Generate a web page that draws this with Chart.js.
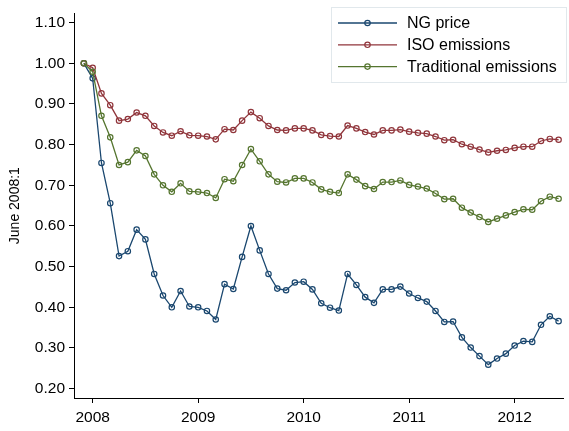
<!DOCTYPE html>
<html>
<head>
<meta charset="utf-8">
<script src="https://cdn.jsdelivr.net/npm/chart.js@4/dist/chart.umd.min.js"></script>
<style>
  html, body { margin: 0; padding: 0; background: #fff; }
  #wrap { width: 569px; height: 431px; }
</style>
</head>
<body>
<div id="wrap"><canvas id="chart" width="569" height="431"></canvas></div>
<script>
// monthly observations, index June 2008 = 1
const months = [
  '2007-12', '2008-01', '2008-02', '2008-03', '2008-04', '2008-05', '2008-06', '2008-07', '2008-08', '2008-09', '2008-10', '2008-11',
  '2008-12', '2009-01', '2009-02', '2009-03', '2009-04', '2009-05', '2009-06', '2009-07', '2009-08', '2009-09', '2009-10', '2009-11',
  '2009-12', '2010-01', '2010-02', '2010-03', '2010-04', '2010-05', '2010-06', '2010-07', '2010-08', '2010-09', '2010-10', '2010-11',
  '2010-12', '2011-01', '2011-02', '2011-03', '2011-04', '2011-05', '2011-06', '2011-07', '2011-08', '2011-09', '2011-10', '2011-11',
  '2011-12', '2012-01', '2012-02', '2012-03', '2012-04', '2012-05', '2012-06'
];
const ngPrice = [
  1.00, 0.963, 0.755, 0.656, 0.526, 0.538, 0.591, 0.567, 0.482, 0.429,
  0.400, 0.440, 0.402, 0.400, 0.391, 0.370, 0.457, 0.445, 0.524, 0.600,
  0.540, 0.482, 0.446, 0.442, 0.461, 0.463, 0.444, 0.410, 0.399, 0.392,
  0.482, 0.455, 0.425, 0.411, 0.444, 0.444, 0.451, 0.434, 0.423, 0.414,
  0.391, 0.364, 0.365, 0.326, 0.301, 0.280, 0.259, 0.274, 0.286, 0.306,
  0.317, 0.315, 0.357, 0.378, 0.366
];
const isoEmissions = [
  1.00, 0.989, 0.926, 0.897, 0.859, 0.863, 0.879, 0.871, 0.846, 0.830,
  0.822, 0.833, 0.823, 0.822, 0.820, 0.813, 0.838, 0.836, 0.859, 0.880,
  0.865, 0.846, 0.836, 0.835, 0.840, 0.840, 0.835, 0.824, 0.821, 0.820,
  0.847, 0.840, 0.831, 0.825, 0.835, 0.835, 0.837, 0.832, 0.829, 0.827,
  0.820, 0.811, 0.812, 0.801, 0.795, 0.788, 0.781, 0.785, 0.787, 0.792,
  0.795, 0.795, 0.809, 0.814, 0.812
];
const tradEmissions = [
  1.00, 0.979, 0.871, 0.818, 0.750, 0.757, 0.786, 0.772, 0.727, 0.700,
  0.684, 0.705, 0.685, 0.684, 0.681, 0.669, 0.715, 0.710, 0.750, 0.789,
  0.759, 0.727, 0.709, 0.707, 0.717, 0.717, 0.707, 0.690, 0.684, 0.681,
  0.727, 0.714, 0.698, 0.691, 0.708, 0.708, 0.712, 0.701, 0.697, 0.692,
  0.680, 0.666, 0.667, 0.645, 0.633, 0.622, 0.610, 0.618, 0.626, 0.634,
  0.641, 0.640, 0.661, 0.672, 0.667
];
const xTicks = [2008, 2009, 2010, 2011, 2012];
const yTicks = [0.2, 0.3, 0.4, 0.5, 0.6, 0.7, 0.8, 0.9, 1.0, 1.1];

const FONT = "'Liberation Sans', Arial, Helvetica, sans-serif";

// month string -> decimal year
const toYear = s => {
    const [y, m] = s.split('-').map(Number);
    return y + (m - 1) / 12;
};
const pairs = vals => vals.map((v, i) => ({ x: toYear(months[i]), y: v }));

const series = (label, vals, color, order) => ({
    label,
    data: pairs(vals),
    borderColor: color,
    borderWidth: 1.3,
    pointRadius: 2.7,
    pointBorderWidth: 1.2,
    pointBackgroundColor: 'rgba(0,0,0,0)',
    pointBorderColor: color,
    tension: 0,
    order
});

// legend box drawn inside the plot, top right
const boxLegend = {
    id: 'boxLegend',
    afterDraw(chart) {
        const ctx = chart.ctx;
        const x0 = 331, y0 = 7, w = 235, h = 75;
        ctx.save();
        ctx.fillStyle = '#fff';
        ctx.fillRect(x0, y0, w, h);
        ctx.strokeStyle = '#e1e8ec';
        ctx.lineWidth = 1;
        ctx.strokeRect(x0 + 0.5, y0 + 0.5, w, h);
        chart.data.datasets.forEach((ds, i) => {
            const cy = 23 + i * 21.8;
            ctx.strokeStyle = ds.borderColor;
            ctx.lineWidth = ds.borderWidth;
            ctx.beginPath();
            ctx.moveTo(338, cy);
            ctx.lineTo(397, cy);
            ctx.stroke();
            ctx.lineWidth = ds.pointBorderWidth;
            ctx.beginPath();
            ctx.arc(367.5, cy, ds.pointRadius, 0, Math.PI * 2);
            ctx.stroke();
            ctx.fillStyle = '#000';
            ctx.font = '16px ' + FONT;
            ctx.textBaseline = 'middle';
            ctx.fillText(ds.label, 407, cy + 0.5);
        });
        ctx.restore();
    }
};

const ctx = document.getElementById('chart').getContext('2d');
new Chart(ctx, {
    type: 'line',
    data: {
        datasets: [
            series('NG price', ngPrice, '#1a476f', 2),
            series('ISO emissions', isoEmissions, '#90353b', 1),
            series('Traditional emissions', tradEmissions, '#55752f', 0)
        ]
    },
    options: {
        responsive: false,
        animation: false,
        layout: { padding: { top: 2, right: 1, left: 0, bottom: 0 } },
        plugins: {
            legend: { display: false },
            tooltip: { enabled: false }
        },
        scales: {
            x: {
                type: 'linear',
                min: 2007.823,
                max: 2012.466,
                afterBuildTicks: s => { s.ticks = xTicks.map(v => ({ value: v })); },
                afterFit: s => { s.height = 33; },
                grid: { drawOnChartArea: false, drawTicks: true, tickLength: 5, color: '#000' },
                border: { display: true, color: '#000', width: 1 },
                ticks: {
                    color: '#000',
                    font: { family: FONT, size: 15.5 },
                    padding: 5,
                    maxRotation: 0,
                    callback: v => String(v)
                }
            },
            y: {
                min: 0.177,
                max: 1.123,
                afterBuildTicks: s => { s.ticks = yTicks.map(v => ({ value: v })); },
                afterFit: s => { s.width = 74; },
                grid: { drawOnChartArea: false, drawTicks: true, tickLength: 5, color: '#000' },
                border: { display: true, color: '#000', width: 1 },
                title: {
                    display: true,
                    text: 'June 2008:1',
                    color: '#000',
                    font: { family: FONT, size: 14 },
                    padding: { top: 6.5, bottom: 0 }
                },
                ticks: {
                    color: '#000',
                    font: { family: FONT, size: 15.5 },
                    padding: 4,
                    callback: v => Number(v).toFixed(2)
                }
            }
        }
    },
    plugins: [boxLegend]
});
</script>
</body>
</html>
